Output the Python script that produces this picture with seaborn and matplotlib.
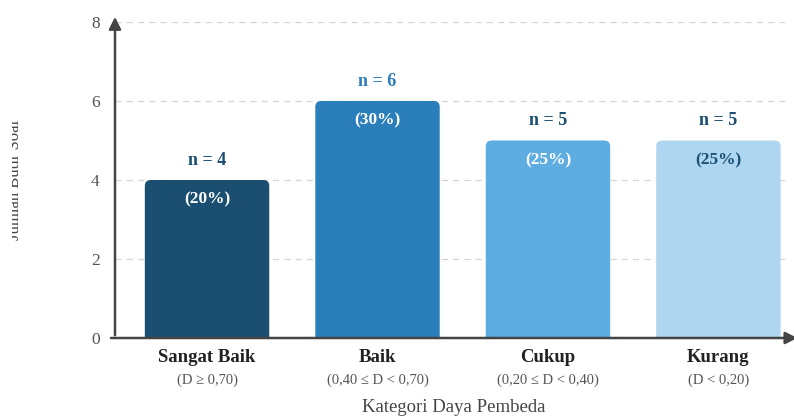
import matplotlib
matplotlib.use("Agg")
import matplotlib.pyplot as plt
import seaborn as sns
import pandas as pd
from matplotlib.patches import FancyBboxPatch
from matplotlib.transforms import Bbox

categories = ["Sangat Baik", "Baik", "Cukup", "Kurang"]
sublabels = ["(D \u2265 0,70)", "(0,40 \u2264 D < 0,70)", "(0,20 \u2264 D < 0,40)", "(D < 0,20)"]
counts = [4, 6, 5, 5]
percents = ["(20%)", "(30%)", "(25%)", "(25%)"]
bar_colors = ["#1b4f72", "#2a7fba", "#5dade2", "#aed6f1"]
n_colors = ["#1b4f72", "#2a7fba", "#1b4f72", "#1b4f72"]
pct_colors = ["white", "white", "white", "#1b4f72"]
yticks = [0, 2, 4, 6, 8]

sns.set_theme(style="white")
plt.rcParams["font.family"] = ["Liberation Serif", "DejaVu Serif"]

df = pd.DataFrame({"cat": categories, "n": counts})

fig = plt.figure(figsize=(7.94, 4.17), dpi=100)
ax = fig.add_axes([115/794, 79/417, 675/794, 316/417])

sns.barplot(data=df, x="cat", y="n", hue="cat", palette=bar_colors,
            width=0.73, legend=False, ax=ax, saturation=1, zorder=3)

# round the top corners of the bars (bottom part hidden below the axis)
for p, c in zip(list(ax.patches), bar_colors):
    x, y = p.get_x(), p.get_y()
    w, h = p.get_width(), p.get_height()
    p.set_visible(False)
    r = FancyBboxPatch((x, y - 0.3), w, h + 0.3, boxstyle="round,pad=0,rounding_size=0.035",
                       mutation_aspect=4.3, facecolor=c, edgecolor="none", zorder=3)
    ax.add_patch(r)

ax.set_xlim(-0.54, 3.42)
ax.set_ylim(0, 8)
ax.set_yticks(yticks)
ax.set_yticklabels([str(t) for t in yticks], color="#555555", fontsize=12.5)
ax.yaxis.grid(True, linestyle=(0, (5, 4)), color="#d5d5d5", linewidth=0.9, zorder=0)
ax.xaxis.grid(False)
for s in ["top", "right", "left", "bottom"]:
    ax.spines[s].set_visible(False)
ax.tick_params(axis="y", length=0, pad=11)
ax.tick_params(axis="x", length=0)
ax.set_xticks(range(len(categories)))
ax.set_xticklabels([])
ax.set_xlabel("")
ax.set_ylabel("")

# axis lines with arrows
ax.annotate("", xy=(-0.54, 8.2), xytext=(-0.54, 0), xycoords="data",
            arrowprops=dict(arrowstyle="-|>,head_length=0.6,head_width=0.3", color="#444444", lw=1.8),
            annotation_clip=False, zorder=5)
ax.annotate("", xy=(3.48, 0), xytext=(-0.58, 0), xycoords="data",
            arrowprops=dict(arrowstyle="-|>,head_length=0.6,head_width=0.3", color="#444444", lw=1.8),
            annotation_clip=False, zorder=5)

for i, (c, pct) in enumerate(zip(counts, percents)):
    ax.text(i, c + 0.5, f"n = {c}", ha="center", va="center", fontsize=13,
            fontweight="bold", color=n_colors[i], zorder=6)
    ax.text(i, c - 0.5, pct, ha="center", va="center", fontsize=12.5,
            fontweight="bold", color=pct_colors[i], zorder=6)
    ax.text(i, -0.5, categories[i], ha="center", va="center", fontsize=13.5,
            fontweight="bold", color="#222222", clip_on=False)
    ax.text(i, -1.07, sublabels[i], ha="center", va="center", fontsize=10.5,
            color="#555555", clip_on=False)

fig.text(0.572, 9/417, "Kategori Daya Pembeda", ha="center", va="center",
         fontsize=13.5, color="#444444")
yl = fig.text(15/794, 237/417, "Jumlah Butir Soal", ha="center", va="center",
              rotation=90, fontsize=12, color="#444444")
yl.set_clip_box(Bbox.from_extents(12, 0, 794, 417))
yl.set_clip_on(True)

fig.savefig("out.png", dpi=100)
